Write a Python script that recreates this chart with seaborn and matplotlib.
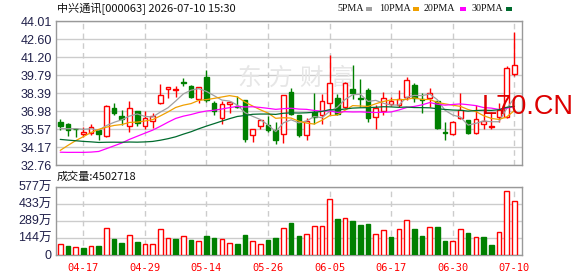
import numpy as np
import pandas as pd
import matplotlib
matplotlib.use("Agg")
import matplotlib.pyplot as plt
import seaborn as sns
from matplotlib.patches import Rectangle

# ---------------- data ----------------
dates = ["04-14", "04-15", "04-16", "04-17", "04-20", "04-21", "04-22", "04-23", "04-24", "04-27",
         "04-28", "04-29", "04-30", "05-06", "05-07", "05-08", "05-11", "05-12", "05-13", "05-14",
         "05-15", "05-18", "05-19", "05-20", "05-21", "05-22", "05-25", "05-26", "05-27", "05-28",
         "05-29", "06-01", "06-02", "06-03", "06-04", "06-05", "06-08", "06-09", "06-10", "06-11",
         "06-12", "06-15", "06-16", "06-17", "06-18", "06-22", "06-23", "06-24", "06-25", "06-26",
         "06-29", "06-30", "07-01", "07-02", "07-03", "07-06", "07-07", "07-08", "07-09", "07-10"]
tick_dates = ["04-17", "04-29", "05-14", "05-26", "06-05", "06-17", "06-30", "07-10"]

open_ = [36.13, 35.95, 35.60, 35.16, 35.29, 35.53, 35.03, 37.18, 36.57, 35.81,
         36.97, 35.81, 36.21, 37.57, 38.68, 38.62, 39.27, 38.96, 37.89, 39.62,
         37.57, 36.40, 37.52, 37.36, 37.80, 35.07, 35.79, 35.92, 35.47, 35.21,
         38.44, 36.65, 35.14, 36.91, 36.65, 37.62, 37.97, 37.30, 38.70, 37.99,
         38.62, 36.52, 36.97, 37.52, 37.44, 38.10, 39.01, 37.93, 37.97, 37.76,
         35.34, 35.21, 36.40, 36.26, 35.29, 36.00, 35.76, 36.50, 36.52, 39.85]
close = [35.79, 35.53, 35.56, 35.34, 35.73, 35.21, 37.36, 36.84, 36.32, 37.18,
         36.05, 36.40, 36.60, 38.23, 38.88, 38.68, 39.19, 38.05, 38.83, 37.80,
         36.99, 37.49, 37.65, 37.30, 34.82, 35.55, 36.26, 35.47, 34.74, 38.25,
         36.73, 35.07, 36.18, 36.52, 37.76, 39.19, 36.75, 39.14, 38.41, 37.93,
         36.40, 37.18, 37.97, 37.76, 37.89, 39.41, 37.97, 37.86, 38.41, 35.66,
         35.26, 36.13, 37.05, 35.29, 36.34, 36.18, 35.84, 37.05, 40.33, 40.59]
high = [36.32, 36.05, 35.65, 35.69, 36.00, 35.61, 37.44, 37.62, 37.05, 37.76,
        36.97, 36.97, 36.84, 39.09, 38.88, 38.94, 39.54, 39.01, 38.88, 40.19,
        37.76, 37.76, 37.76, 38.15, 37.80, 35.61, 36.26, 36.57, 36.13, 38.25,
        38.75, 36.65, 36.40, 38.36, 38.28, 41.37, 38.28, 39.27, 40.59, 39.46,
        38.75, 37.44, 38.49, 38.05, 38.62, 39.67, 39.17, 38.36, 38.80, 37.76,
        36.13, 36.18, 38.36, 36.26, 37.44, 37.13, 36.90, 37.60, 40.49, 43.16]
low = [35.47, 35.05, 34.95, 34.95, 35.14, 34.69, 34.95, 36.65, 35.87, 35.34,
       35.79, 35.61, 35.66, 37.49, 37.97, 38.10, 38.94, 37.97, 37.62, 37.70,
       36.65, 36.00, 36.79, 37.18, 34.53, 34.53, 35.61, 35.34, 34.37, 34.45,
       36.65, 34.95, 34.74, 36.00, 36.00, 36.65, 36.65, 37.18, 37.89, 37.30,
       36.13, 35.61, 36.65, 37.36, 37.30, 37.84, 37.70, 36.86, 37.30, 35.61,
       34.69, 35.14, 36.34, 35.21, 35.21, 35.61, 35.60, 36.10, 36.40, 39.75]
# volume in 万 shares
volume = [86, 72, 61, 55, 69, 72, 222, 132, 98, 163,
          106, 86, 86, 214, 137, 132, 154, 123, 115, 157,
          140, 129, 95, 89, 166, 112, 89, 123, 140, 222,
          267, 157, 174, 242, 242, 471, 301, 310, 284, 250,
          259, 174, 208, 149, 216, 293, 216, 157, 231, 233,
          115, 115, 214, 182, 146, 149, 81, 191, 539, 450.27]
# earlier closes (before the visible window), estimated from where the MA lines start
prior_close = [37.2, 37.0, 36.9, 36.8, 36.6, 36.9, 36.7, 36.5, 36.6, 36.4,
               35.8, 35.5, 35.4, 35.3, 34.2, 33.0, 32.4, 31.9, 31.5, 31.2,
               31.6, 31.9, 32.2, 32.5, 32.75, 35.62, 35.5, 35.6, 35.54]

price_tick_labels = ["32.76", "34.17", "35.57", "36.98", "38.39", "39.79", "41.20", "42.60", "44.01"]
vol_tick_labels = ["0", "144万", "289万", "433万", "577万"]
ma_periods = [5, 10, 20, 30]
ma_names = ["5PMA", "10PMA", "20PMA", "30PMA"]
ma_colors = ["#a0a0a0", "#f0a000", "#ff00ff", "#006b2e"]

title = "中兴通讯[000063] 2026-07-10 15:30"
vol_title = "成交量:4502718"

# ---------------- figure ----------------
sns.set_style("white")
plt.rcParams["font.family"] = ["Liberation Sans", "Noto Sans CJK SC", "DejaVu Sans"]

W, H = 578, 276
fig = plt.figure(figsize=(W / 100, H / 100), dpi=100)
ax1 = fig.add_axes([56 / W, 1 - 165 / H, 466 / W, 144 / H])
ax2 = fig.add_axes([56 / W, 1 - 254.5 / H, 466 / W, 68 / H])

RED = "#ff0000"
GREEN = "#008000"
n = len(dates)
idx = np.arange(n)
o = np.array(open_); c = np.array(close); h = np.array(high); l = np.array(low)
prev = np.concatenate([[prior_close[-1]], c[:-1]])

full = pd.Series(prior_close + close)
df = pd.DataFrame({"i": idx})
for p, name in zip(ma_periods, ma_names):
    df[name] = full.rolling(p).mean().iloc[len(prior_close):].to_numpy()

# candles
up = c >= o
cols = np.where(up, RED, GREEN)
ax1.vlines(idx, l, h, colors=cols, linewidth=1.0, zorder=2)
body_bot = np.minimum(o, c)
body_h = np.maximum(np.abs(c - o), 0.015)
ax1.bar(idx, body_h, bottom=body_bot, width=0.6,
        color=np.where(up, "white", GREEN), edgecolor=cols, linewidth=1.0, zorder=3)

# moving averages
for name, col in zip(ma_names, ma_colors):
    sns.lineplot(data=df, x="i", y=name, ax=ax1, color=col, linewidth=0.9, zorder=4)

# volume: colour by change vs previous close
vup = c > prev
vcols = np.where(vup, RED, GREEN)
ax2.bar(idx, volume, width=0.6, color=np.where(vup, "white", GREEN),
        edgecolor=vcols, linewidth=1.0, zorder=3)

tick_idx = [dates.index(d) for d in tick_dates]
for ax in (ax1, ax2):
    ax.set_xlim(-0.55, 60.0)
    ax.set_xticks(tick_idx)
    ax.set_xlabel("")
    ax.set_ylabel("")
    ax.grid(False)
    ax.yaxis.grid(True, color="#cccccc", linewidth=1.0, linestyle="-")
    ax.xaxis.grid(True, color="#cccccc", linewidth=1.0, linestyle=(0, (4, 3)))
    ax.set_axisbelow(True)
    for s in ax.spines.values():
        s.set_color("#999999")
        s.set_linewidth(1.0)
    ax.tick_params(length=0, pad=3)

ax1.set_ylim(32.76, 44.01)
ax1.set_yticks(np.linspace(32.76, 44.01, len(price_tick_labels)))
ax1.set_yticklabels(price_tick_labels, fontsize=9, color="#20204a")
ax1.set_xticklabels([])

ax2.set_ylim(0, 577)
ax2.set_yticks(np.linspace(0, 577, len(vol_tick_labels)))
ax2.set_yticklabels(vol_tick_labels, fontsize=9, color="#20204a")
ax2.set_xticklabels(tick_dates, fontsize=7.5, color=RED, family="DejaVu Sans Mono")
ax2.tick_params(axis="x", pad=6)

# watermarks
for k, ch in enumerate("东方财富"):
    ax1.text(0.415 + k * 0.0665, 0.60, ch, transform=ax1.transAxes, fontsize=17,
             color="#e6e6e6", family="Noto Sans CJK SC", ha="center", va="center", zorder=1)
fig.text(482 / W, 1 - 107 / H, "L70.CN", fontsize=19.5, color="#dd0000",
         family="Liberation Sans", ha="left", va="center", zorder=10)

# header texts
fig.text(57 / W, 1 - 8.5 / H, title, fontsize=8, family="Noto Sans CJK SC",
         color="#111111", ha="left", va="center")
fig.text(57 / W, 1 - 176.5 / H, vol_title, fontsize=8, family="Noto Sans CJK SC",
         color="#111111", ha="left", va="center")

# legend row
leg_x = [337, 379, 424, 471]
sq_x = [366, 413, 460, 506]
for name, col, tx, sx in zip(ma_names, ma_colors, leg_x, sq_x):
    fig.text(tx / W, 1 - 8.5 / H, name, fontsize=7.2, family="Liberation Serif",
             color="#111111", ha="left", va="center")
    fig.patches.append(Rectangle((sx / W, 1 - 10.5 / H), 6 / W, 4 / H,
                                 transform=fig.transFigure, facecolor=col,
                                 edgecolor="none", figure=fig))

fig.savefig("out.png", dpi=100)
